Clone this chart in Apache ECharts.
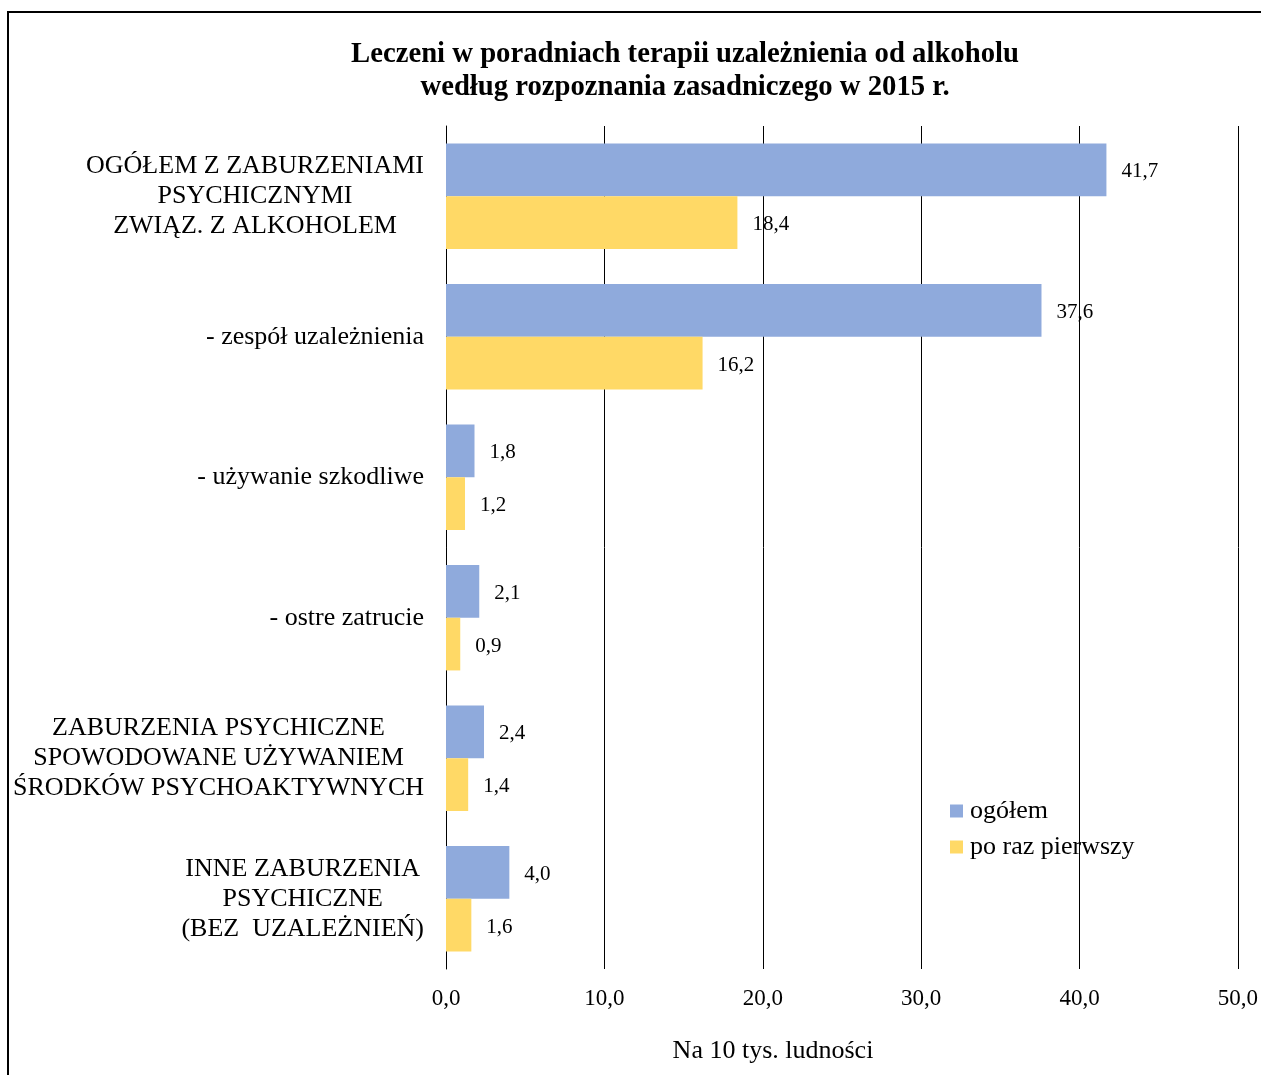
<!DOCTYPE html>
<html>
<head>
<meta charset="utf-8">
<script src="https://cdn.jsdelivr.net/npm/echarts@6/dist/echarts.min.js"></script>
<style>
html,body{margin:0;padding:0;background:#fff;}
#chart{width:1261px;height:1075px;}
</style>
</head>
<body>
<div id="chart"></div>
<script>
const titleLines = ['Leczeni w poradniach terapii uzależnienia od alkoholu', 'według rozpoznania zasadniczego w 2015 r.'];
const categories = [
  'OGÓŁEM Z ZABURZENIAMI\nPSYCHICZNYMI\nZWIĄZ. Z ALKOHOLEM',
  '- zespół uzależnienia',
  '- używanie szkodliwe',
  '- ostre zatrucie',
  'ZABURZENIA PSYCHICZNE\nSPOWODOWANE UŻYWANIEM\nŚRODKÓW PSYCHOAKTYWNYCH',
  'INNE ZABURZENIA\nPSYCHICZNE\n(BEZ  UZALEŻNIEŃ)'
];
const seriesNames = ['ogółem', 'po raz pierwszy'];
const ogolem = [41.7, 37.6, 1.8, 2.1, 2.4, 4.0];
const pierwszy = [18.4, 16.2, 1.2, 0.9, 1.4, 1.6];
const axisName = 'Na 10 tys. ludności';
const xMin = 0, xMax = 50, xStep = 10;

const FONT = '"Liberation Serif", "Times New Roman", serif';
const fmt = v => Number(v).toFixed(1).replace('.', ',');

const chart = echarts.init(document.getElementById('chart'), null, {renderer: 'canvas'});
chart.setOption({
  backgroundColor: '#fff',
  animation: false,
  textStyle: {fontFamily: FONT, color: '#000'},
  title: {
    text: titleLines.join('\n'),
    left: 680, top: 33,
    textAlign: 'center',
    textStyle: {fontFamily: FONT, fontWeight: 'bold', fontSize: 28.7, lineHeight: 33, color: '#000'}
  },
  graphic: [
    {
      type: 'rect', silent: true, z: 100,
      shape: {x: 8, y: 12, width: 1400, height: 1200},
      style: {fill: 'none', stroke: '#000', lineWidth: 2}
    },
    {
      type: 'text', silent: true, x: 773, y: 1051,
      style: {text: axisName, fontFamily: FONT, fontSize: 26, fill: '#000', align: 'center', verticalAlign: 'middle'}
    }
  ],
  legend: {
    orient: 'vertical',
    left: 950, top: 798, padding: 0,
    itemWidth: 13, itemHeight: 13, itemGap: 10,
    icon: 'rect',
    textStyle: {fontFamily: FONT, fontSize: 26, color: '#000', padding: [0, 0, 0, 2]},
    data: seriesNames
  },
  grid: {left: 446, right: 19, top: 126, bottom: 106, containLabel: false},
  xAxis: {
    type: 'value', min: xMin, max: xMax, interval: xStep,
    axisLine: {show: false}, axisTick: {show: false},
    splitLine: {show: true, lineStyle: {color: '#000', width: 1}},
    axisLabel: {formatter: fmt, fontFamily: FONT, fontSize: 23, color: '#000', margin: 18}
  },
  yAxis: {
    type: 'category', inverse: true, data: categories,
    axisLine: {show: true, lineStyle: {color: '#000', width: 1}},
    axisTick: {show: false},
    axisLabel: {
      margin: 22, align: 'right',
      formatter: v => v.split('\n').map(s => '{c|' + s + '}').join('\n'),
      rich: {c: {align: 'center', fontFamily: FONT, fontSize: 26, lineHeight: 30, color: '#000'}}
    }
  },
  series: [
    {
      name: seriesNames[0], type: 'bar', data: ogolem,
      barGap: '0%', barCategoryGap: '25%',
      itemStyle: {color: '#8FAADC'},
      label: {show: true, position: 'right', distance: 15, offset: [0, 2], formatter: p => fmt(p.value),
        fontFamily: FONT, fontSize: 21, color: '#000'}
    },
    {
      name: seriesNames[1], type: 'bar', data: pierwszy,
      barGap: '0%', barCategoryGap: '25%',
      itemStyle: {color: '#FFD966'},
      label: {show: true, position: 'right', distance: 15, offset: [0, 2], formatter: p => fmt(p.value),
        fontFamily: FONT, fontSize: 21, color: '#000'}
    }
  ]
});
</script>
</body>
</html>
